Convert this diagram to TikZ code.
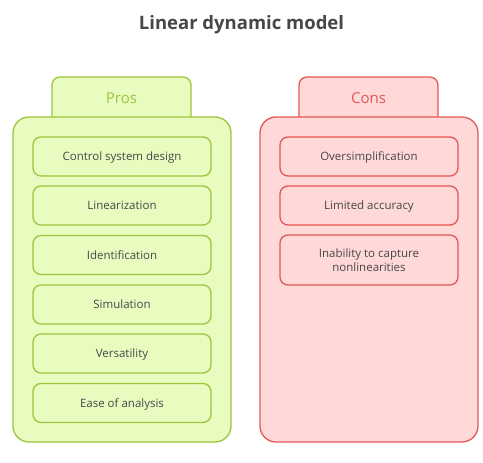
\documentclass[tikz,border=0pt]{standalone}
\usepackage{fontspec}
\setmainfont{Open Sans}
\definecolor{gstroke}{HTML}{9CC43C}
\definecolor{gfill}{HTML}{E8FCC0}
\definecolor{rstroke}{HTML}{E35757}
\definecolor{rfill}{HTML}{FFD8D8}
\definecolor{txt}{HTML}{474747}
\tikzset{
  gbox/.style={draw=gstroke,fill=gfill,line width=1.3pt,rounded corners=8pt},
  rbox/.style={draw=rstroke,fill=rfill,line width=1.3pt,rounded corners=8pt},
  gpanel/.style={draw=gstroke,fill=gfill,line width=1.3pt,rounded corners=16pt},
  rpanel/.style={draw=rstroke,fill=rfill,line width=1.3pt,rounded corners=16pt},
  item/.style={minimum width=178pt,minimum height=39pt,inner sep=0pt,align=center,text=txt,font=\fontsize{11.5}{14}\selectfont},
  lbl/.style={anchor=base,inner sep=0pt},
}
\begin{document}
\begin{tikzpicture}[x=1pt,y=-1pt]
\useasboundingbox (0,0) rectangle (483,463);
\node[font=\fontsize{18.5}{22}\selectfont\bfseries,text=txt,lbl] (title) at (241.5,29) {Linear dynamic model};
% Pros
\draw[gbox] (52,77) rectangle (191,135);
\node[text=gstroke,font=\fontsize{15}{18}\selectfont,lbl] (pros) at (121.5,103) {Pros};
\draw[gpanel] (13,117) rectangle (231,442);
\node[gbox,item] (p1) at (122,156.5) {};
\node[gbox,item] (p2) at (122,205.5) {};
\node[gbox,item] (p3) at (122,255) {};
\node[gbox,item] (p4) at (122,304.5) {};
\node[gbox,item] (p5) at (122,353.5) {};
\node[gbox,item] (p6) at (122,403) {};
\foreach \n/\t in {p1/Control system design,p2/Linearization,p3/Identification,p4/Simulation,p5/Versatility,p6/Ease of analysis}
  \node[lbl,text=txt,font=\fontsize{11.5}{14}\selectfont] at ([yshift=-4pt]\n.center) {\t};
% Cons
\draw[rbox] (299,77) rectangle (438,135);
\node[text=rstroke,font=\fontsize{15}{18}\selectfont,lbl] (cons) at (368.5,103) {Cons};
\draw[rpanel] (260,117) rectangle (478,442);
\node[rbox,item] (c1) at (369,156.5) {};
\node[rbox,item] (c2) at (369,205.5) {};
\node[rbox,item,minimum height=50pt] (c3) at (369,260) {};
\foreach \n/\t in {c1/Oversimplification,c2/Limited accuracy}
  \node[lbl,text=txt,font=\fontsize{11.5}{14}\selectfont] at ([yshift=-4pt]\n.center) {\t};
\node[lbl,text=txt,font=\fontsize{11.5}{14}\selectfont] at ([yshift=3pt]c3.center) {Inability to capture};
\node[lbl,text=txt,font=\fontsize{11.5}{14}\selectfont] at ([yshift=-11.5pt]c3.center) {nonlinearities};
\end{tikzpicture}
\end{document}
